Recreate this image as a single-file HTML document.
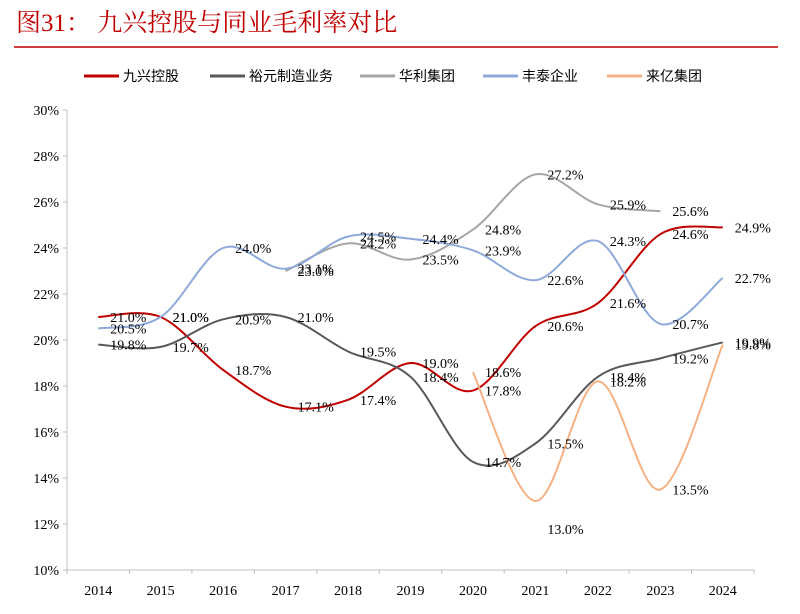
<!DOCTYPE html>
<html><head><meta charset="utf-8"><style>
body{margin:0;background:#fff;width:800px;height:609px;overflow:hidden;font-family:"Liberation Serif","Noto Serif CJK SC",serif;}
</style></head><body>
<svg width="800" height="609" xmlns="http://www.w3.org/2000/svg">
<text x="16" y="31" font-size="25" fill="#c00000" font-family="Liberation Serif, Noto Serif CJK SC, serif">图31：  九兴控股与同业毛利率对比</text>
<line x1="14" y1="47" x2="778" y2="47" stroke="#c00000" stroke-width="1.5"/>
<g id="legend"></g>
<g id="axes"></g>
<g id="series"></g>
<g id="labels"></g>
</svg>
<script>
const years=["2014","2015","2016","2017","2018","2019","2020","2021","2022","2023","2024"];
const yTicks=[10,12,14,16,18,20,22,24,26,28,30];
const names=["九兴控股","裕元制造业务","华利集团","丰泰企业","来亿集团"];
const jiuxing=[21.0,21.0,18.7,17.1,17.4,19.0,17.8,20.6,21.6,24.6,24.9];
const yuyuan=[19.8,19.7,20.9,21.0,19.5,18.4,14.7,15.5,18.4,19.2,19.9];
const huali=[null,null,null,23.0,24.2,23.5,24.8,27.2,25.9,25.6,null];
const fengtai=[20.5,21.0,24.0,23.1,24.5,24.4,23.9,22.6,24.3,20.7,22.7];
const laiyi=[null,null,null,null,null,null,18.6,13.0,18.2,13.5,19.8];
const colors=["#c00000","#595959","#a6a6a6","#8eaadb","#f4b183"];
const NS="http://www.w3.org/2000/svg";
const X0=67,X1=754,Y0=570,Y1=110;
const step=(X1-X0)/years.length;
function xs(i){return X0+step*(i+0.5);}
function ys(v){return Y0-(v-10)/20*(Y0-Y1);}
function mk(t,a,p){const e=document.createElementNS(NS,t);for(const k in a)e.setAttribute(k,a[k]);p.appendChild(e);return e;}
const axes=document.getElementById('axes');
const yl=mk('line',{x1:X0,y1:Y1,x2:X0,y2:Y0,stroke:'#bfbfbf'},axes);


const xl=mk('line',{x1:X0,y1:Y0,x2:X1,y2:Y0,stroke:'#bfbfbf'},axes);


yTicks.forEach(v=>{
 mk('line',{x1:X0-4,y1:ys(v),x2:X0,y2:ys(v),stroke:'#bfbfbf'},axes);
 const t=mk('text',{x:X0-8,y:ys(v)+5,'font-size':14,'text-anchor':'end',fill:'#000'},axes);
 t.textContent=v+'%';
 
 
});
years.forEach((y,i)=>{
 mk('line',{x1:X0+step*i,y1:Y0,x2:X0+step*i,y2:Y0+4,stroke:'#bfbfbf'},axes);
 const t=mk('text',{x:xs(i),y:Y0+25,'font-size':14,'text-anchor':'middle',fill:'#000'},axes);
 t.textContent=y;
 
 
});
mk('line',{x1:X1,y1:Y0,x2:X1,y2:Y0+4,stroke:'#bfbfbf'},axes);
const leg=document.getElementById('legend');
const legX=[84,210,360,483,607];
names.forEach((n,k)=>{
 mk('line',{x1:legX[k],y1:76,x2:legX[k]+35,y2:76,stroke:colors[k],'stroke-width':3},leg);
 const t=mk('text',{x:legX[k]+39,y:81,'font-size':14,fill:'#000','font-family':'Noto Sans CJK SC, sans-serif'},leg);
 t.textContent=n;
 
 
});
function smooth(pts){
 let d='M'+pts[0][0]+','+pts[0][1];
 for(let i=0;i<pts.length-1;i++){
  const p0=pts[i-1]||pts[i],p1=pts[i],p2=pts[i+1],p3=pts[i+2]||p2;
  const c1x=p1[0]+(p2[0]-p0[0])/6,c1y=p1[1]+(p2[1]-p0[1])/6;
  const c2x=p2[0]-(p3[0]-p1[0])/6,c2y=p2[1]-(p3[1]-p1[1])/6;
  d+=' C'+c1x+','+c1y+' '+c2x+','+c2y+' '+p2[0]+','+p2[1];
 }
 return d;
}
const ser=document.getElementById('series'),lab=document.getElementById('labels');
const all=[jiuxing,yuyuan,huali,fengtai,laiyi];
const sNames=['series-jiuxing','series-yuyuan','series-huali','series-fengtai','series-laiyi'];
all.forEach((arr,k)=>{
 const pts=[];arr.forEach((v,i)=>{if(v!==null)pts.push([xs(i),ys(v),v,i]);});
 const p=mk('path',{d:smooth(pts),fill:'none',stroke:colors[k],'stroke-width':2},ser);
 
 
 pts.forEach(q=>{
  let dy=5,dx=12;
  if(k==4&&q[3]==7){dy=33;}
  const t=mk('text',{x:q[0]+dx,y:q[1]+dy,'font-size':14,fill:'#000'},lab);
  t.textContent=q[2].toFixed(1)+'%';
  
  
 });
});
</script>
</body></html>
